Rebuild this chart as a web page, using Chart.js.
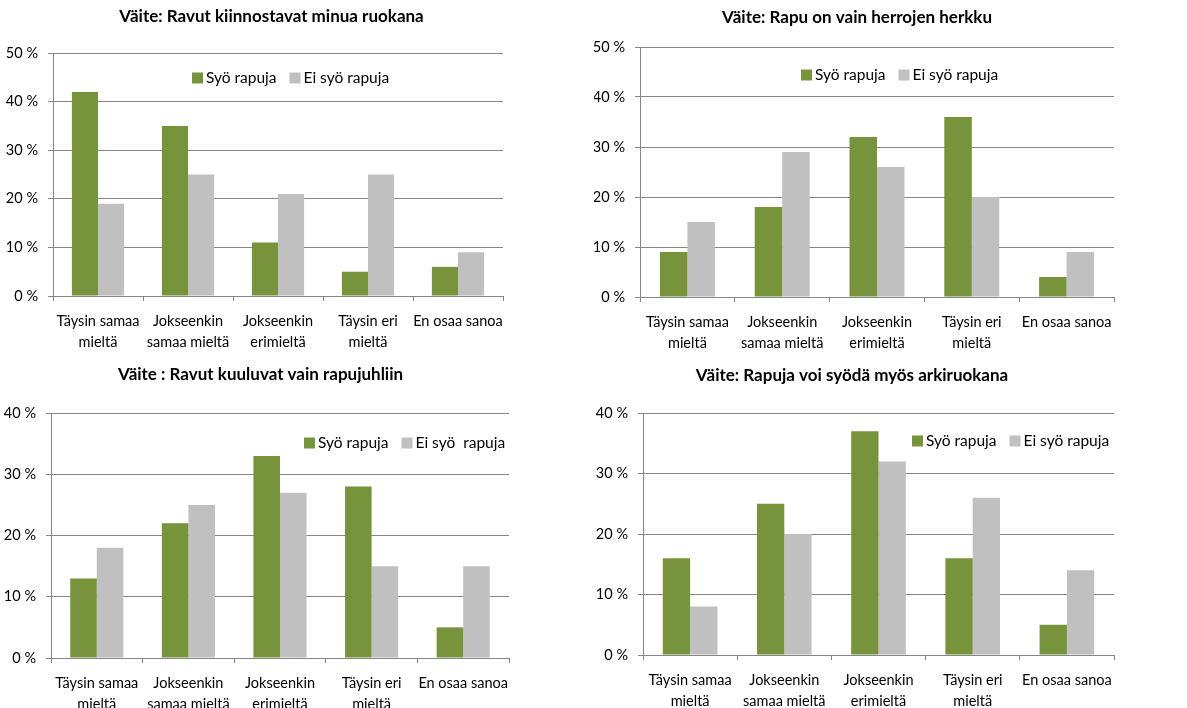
<!DOCTYPE html>
<html>
<head>
<meta charset="utf-8">
<script src="https://cdn.jsdelivr.net/npm/chart.js@4/dist/chart.umd.min.js"></script>
<style>
  body { margin: 0; background: #fff; }
  .box { position: absolute; }
</style>
</head>
<body>
<div class="box" style="left:0;top:0;width:594px;height:354px"><canvas id="c1"></canvas></div>
<div class="box" style="left:594px;top:0;width:593px;height:354px"><canvas id="c2"></canvas></div>
<div class="box" style="left:0;top:354px;width:594px;height:354px"><canvas id="c3"></canvas></div>
<div class="box" style="left:594px;top:354px;width:593px;height:354px"><canvas id="c4"></canvas></div>
<script>
// Neljä väitettä, vastaukset syöjät / ei-syöjät (%)

const categories = [
  ['Täysin samaa', 'mieltä'],
  ['Jokseenkin', 'samaa mieltä'],
  ['Jokseenkin', 'erimieltä'],
  ['Täysin eri', 'mieltä'],
  'En osaa sanoa'
];

const titles = [
  'Väite: Ravut kiinnostavat minua ruokana',
  'Väite: Rapu on vain herrojen herkku',
  'Väite : Ravut kuuluvat vain rapujuhliin',
  'Väite: Rapuja voi syödä myös arkiruokana'
];

const syoLabel = 'Syö rapuja';
const eiSyoLabels = ['Ei syö rapuja', 'Ei syö rapuja', 'Ei syö  rapuja', 'Ei syö rapuja'];

const syo1   = [42, 35, 11, 5, 6];
const eiSyo1 = [19, 25, 21, 25, 9];
const syo2   = [9, 18, 32, 36, 4];
const eiSyo2 = [15, 29, 26, 20, 9];
const syo3   = [13, 22, 33, 28, 5];
const eiSyo3 = [18, 25, 27, 15, 15];
const syo4   = [16, 25, 37, 16, 5];
const eiSyo4 = [8, 20, 32, 26, 14];

const yMax = [50, 50, 40, 40];

const GREEN = '#77933C';
const GREY = '#C0C0C0';
const LINE = '#868686';
const FONT = 'Lato';

// legenda piirretään kuvaajan sisään
const innerLegend = {
  id: 'innerLegend',
  afterDraw(chart, args, opts) {
    const ctx = chart.ctx;
    let x = opts.x;
    const y = opts.y;
    ctx.save();
    ctx.font = '15.5px ' + FONT;
    ctx.textBaseline = 'middle';
    chart.data.datasets.forEach(ds => {
      ctx.fillStyle = ds.backgroundColor;
      ctx.fillRect(x, y - 5.5, 11, 11);
      x += 14;
      ctx.fillStyle = '#000';
      ctx.fillText(ds.label, x, y);
      x += ctx.measureText(ds.label).width + opts.gap;
    });
    ctx.restore();
  }
};

// otsikon vaakasiirto
const titleShift = {
  id: 'titleShift',
  afterLayout(chart, args, opts) {
    const t = chart.titleBlock;
    if (!t) return;
    t.left += opts.dx;
    t.right += opts.dx;
  }
};

function makeChart(id, idx, syo, eiSyo, lay) {
  const ctx = document.getElementById(id).getContext('2d');
  new Chart(ctx, {
    type: 'bar',
    data: {
      labels: categories,
      datasets: [
        { label: syoLabel, data: syo, backgroundColor: GREEN },
        { label: eiSyoLabels[idx], data: eiSyo, backgroundColor: GREY }
      ]
    },
    options: {
      responsive: true,
      maintainAspectRatio: false,
      animation: false,
      categoryPercentage: 0.58,
      barPercentage: 1,
      layout: { padding: { left: 0, right: lay.padRight, top: 0, bottom: 0 } },
      plugins: {
        legend: { display: false },
        tooltip: { enabled: false },
        title: {
          display: true,
          text: titles[idx],
          color: '#000',
          font: { family: FONT, size: 17, weight: 'bold' },
          padding: { top: lay.titleTop, bottom: lay.titleBottom }
        },
        innerLegend: { x: lay.legX, y: lay.legY, gap: 13 },
        titleShift: { dx: lay.titleDx }
      },
      scales: {
        x: {
          grid: { drawOnChartArea: false, drawTicks: true, tickLength: 5, color: LINE, offset: true },
          border: { color: LINE },
          ticks: { color: '#000', font: { family: FONT, size: 14.5, lineHeight: 1.45 }, padding: 10, maxRotation: 0, autoSkip: false },
          afterFit: s => { s.height = lay.xHeight; }
        },
        y: {
          min: 0,
          max: yMax[idx],
          grid: { color: LINE, tickLength: 5 },
          border: { color: LINE },
          ticks: { stepSize: 10, color: '#000', font: { family: FONT, size: 14.5 }, padding: 10,
                   callback: v => v + ' %' },
          afterFit: s => { s.width = lay.yWidth; }
        }
      }
    },
    plugins: [innerLegend, titleShift]
  });
}

makeChart('c1', 0, syo1, eiSyo1, { yWidth: 53, padRight: 91, titleTop: 6, titleBottom: 26.6, titleDx: 20, xHeight: 58, legX: 192, legY: 78 });
makeChart('c2', 1, syo2, eiSyo2, { yWidth: 46, padRight: 73, titleTop: 7, titleBottom: 19.6, titleDx: 3, xHeight: 57, legX: 207, legY: 75 });
makeChart('c3', 2, syo3, eiSyo3, { yWidth: 51, padRight: 85, titleTop: 10, titleBottom: 28.6, titleDx: 6, xHeight: 50, legX: 304, legY: 89 });
makeChart('c4', 3, syo4, eiSyo4, { yWidth: 49, padRight: 73, titleTop: 11, titleBottom: 27.6, titleDx: -2, xHeight: 53, legX: 318, legY: 87 });
</script>
</body>
</html>
